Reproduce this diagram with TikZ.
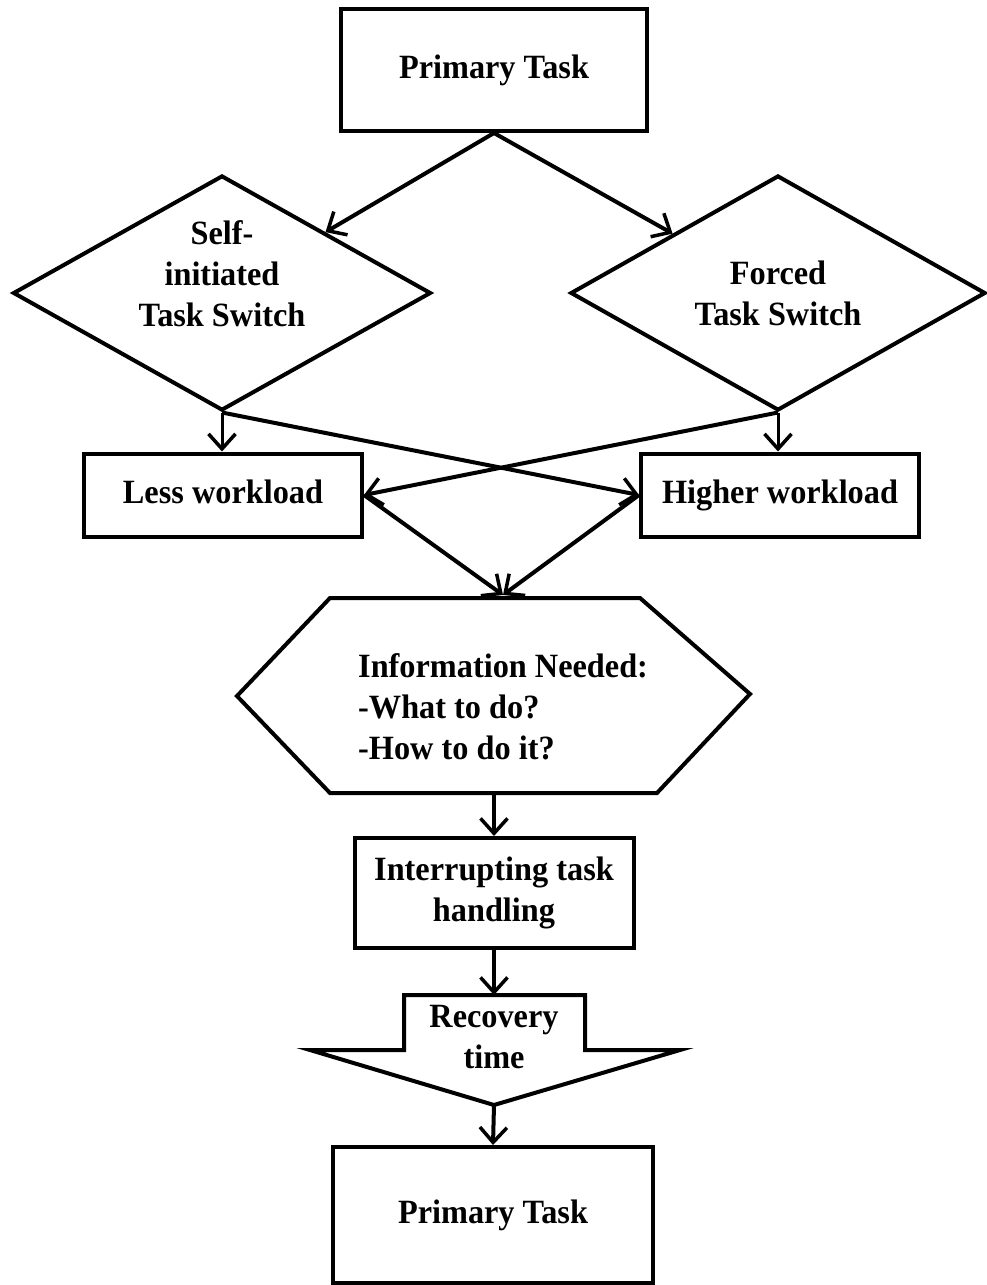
\documentclass[tikz,border=0pt]{standalone}
\usepackage{fontspec}
\setmainfont{Liberation Serif}[FakeStretch=0.95]
\usetikzlibrary{shapes.geometric,arrows.meta}

\begin{document}
\begin{tikzpicture}[x=1pt,y=-1pt,
    every node/.style={font=\bfseries\fontsize{34}{41}\selectfont},
    box/.style={draw,line width=4pt,inner sep=0pt,align=center},
    oneline/.style={text height=24pt,text depth=8pt},
    choice/.style={draw,diamond,line width=4pt,inner sep=0pt,minimum width=418pt,minimum height=235pt},
    txt/.style={align=center,inner sep=0pt},
    arr/.style={line width=4pt,-{Straight Barb[length=15pt,width=27pt,line width=3.5pt]}}]
  \useasboundingbox (0,0) rectangle (987,1285);

  \node[box,oneline,minimum width=306pt,minimum height=122pt] (top) at (494,70) {Primary Task};

  \node[choice] (self) at (222,293) {};
  \node[txt] (selftxt) at (222,274) {Self-\\initiated\\Task Switch};
  \node[choice,minimum width=415pt] (forced) at (778,293) {};
  \node[txt] (forcedtxt) at (778,293) {Forced\\Task Switch};

  \node[box,oneline,minimum width=278pt,minimum height=83pt] (less) at (223,495) {Less workload};
  \node[box,oneline,minimum width=278pt,minimum height=83pt] (higher) at (780,495) {Higher workload};

  % hexagon
  \draw[line width=4pt] (330,598) -- (640,598) -- (750,694) -- (657,793) -- (330,793) -- (237,696) -- cycle;
  \coordinate (infotop) at (503,595);
  \coordinate (infobot) at (494,793);
  \node[txt,align=left,anchor=west] (info) at (358,707) {Information Needed:\\-What to do?\\-How to do it?};

  \node[box,minimum width=279pt,minimum height=110pt] (interrupt) at (494,893) {Interrupting task\\handling};

  % recovery arrow
  \draw[line width=4pt] (404,995) -- (585,995) -- (585,1050) -- (680,1050) -- (494,1105) -- (310,1050) -- (404,1050) -- cycle;
  \coordinate (rectop) at (494,995);
  \coordinate (rectip) at (494,1105);
  \node[txt] (rectxt) at (494,1037) {Recovery\\time};

  \node[box,oneline,minimum width=320pt,minimum height=136pt] (final) at (493,1215) {Primary Task};

  \draw[arr] (top.south) -- (self);
  \draw[arr] (top.south) -- (forced);
  \draw[arr,line width=3pt] (self.south) -- (self.south |- less.north);
  \draw[arr,line width=3pt] (forced.south) -- (forced.south |- higher.north);
  \draw[arr] (self.south) -- (higher.west);
  \draw[arr] (forced.south) -- (less.east);
  \draw[arr] (less.east) -- (infotop);
  \draw[arr] (higher.west) -- (infotop);
  \draw[arr] (infobot) -- (interrupt.north);
  \draw[arr] (interrupt.south) -- (rectop);
  \draw[arr] (rectip) -- (final.north);
\end{tikzpicture}
\end{document}
